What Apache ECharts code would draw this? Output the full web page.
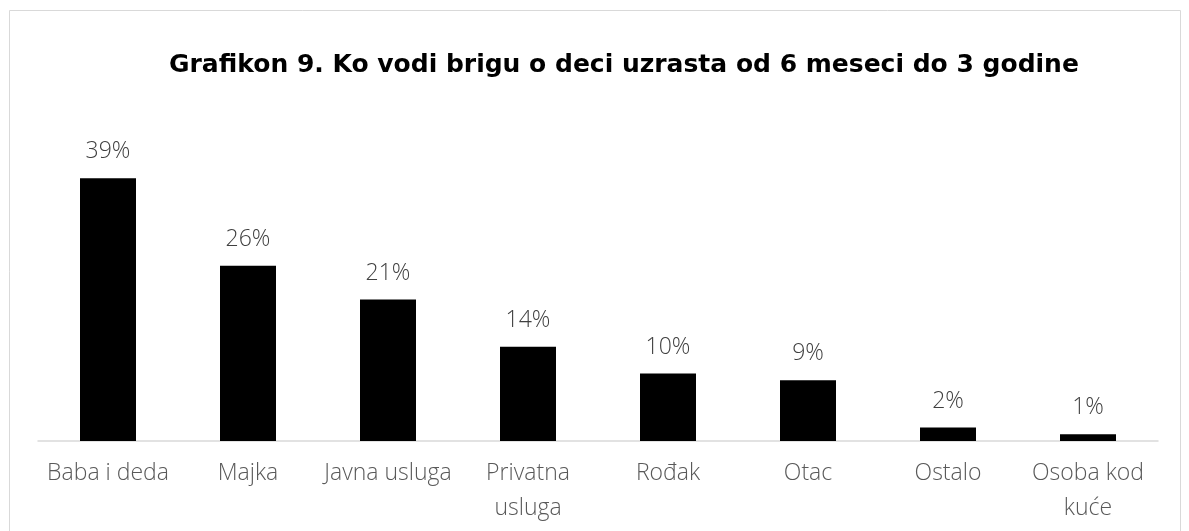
<!DOCTYPE html>
<html>
<head>
<meta charset="utf-8">
<script src="https://cdn.jsdelivr.net/npm/echarts@6/dist/echarts.min.js"></script>
<style>
  html, body { margin: 0; padding: 0; background: #fff; }
  #chart { width: 1189px; height: 531px; }
</style>
</head>
<body>
<div id="chart"></div>
<script>
// data
var categories = ["Baba i deda", "Majka", "Javna usluga", "Privatna\nusluga", "Rođak", "Otac", "Ostalo", "Osoba kod\nkuće"];
var shares = [39, 26, 21, 14, 10, 9, 2, 1];
var titleText = "Grafikon 9. Ko vodi brigu o deci uzrasta od 6 meseci do 3 godine";

var myChart = echarts.init(document.getElementById("chart"));

var option = {
  backgroundColor: "#fff",
  animation: false,
  title: {
    text: titleText,
    left: 164,
    top: 48,
    textStyle: {
      fontFamily: "DejaVu Sans",
      fontWeight: 900,
      fontSize: 25,
      color: "#000"
    }
  },
  graphic: [
    {
      type: "rect",
      shape: { x: 9.5, y: 10.5, width: 1171, height: 540 },
      style: { fill: "none", stroke: "#d9d9d9", lineWidth: 1 },
      silent: true
    }
  ],
  grid: {
    left: 38,
    right: 31,
    top: 104,
    bottom: 90
  },
  xAxis: {
    type: "category",
    data: categories,
    axisLine: { lineStyle: { color: "#d9d9d9", width: 1.5 } },
    axisTick: { show: false },
    axisLabel: {
      interval: 0,
      margin: 15,
      fontFamily: "Open Sans",
      fontWeight: 300,
      fontSize: 23,
      lineHeight: 35,
      color: "#595959"
    }
  },
  yAxis: {
    type: "value",
    min: 0,
    max: 50,
    show: false,
    splitLine: { show: false }
  },
  series: [
    {
      type: "bar",
      data: shares,
      barWidth: 56,
      itemStyle: { color: "#000" },
      label: {
        show: true,
        position: "top",
        distance: 15,
        formatter: "{c}%",
        fontFamily: "Open Sans",
        fontWeight: 300,
        fontSize: 23,
        color: "#404040"
      }
    }
  ]
};

myChart.setOption(option);
</script>
</body>
</html>
